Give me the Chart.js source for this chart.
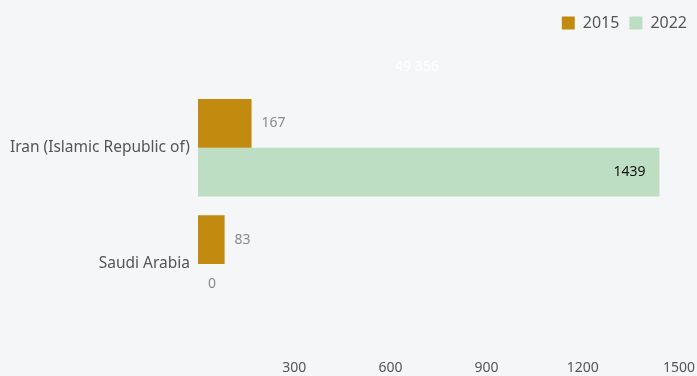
<!DOCTYPE html>
<html>
<head>
<meta charset="utf-8">
<script src="https://cdn.jsdelivr.net/npm/chart.js@4"></script>
<style>
  html, body { margin: 0; padding: 0; background: #f5f6f8; }
  #wrap { width: 697px; height: 376px; }
</style>
</head>
<body>
<div id="wrap"><canvas id="chart"></canvas></div>
<script>
const categories = ["Iran (Islamic Republic of)", "Saudi Arabia"];
const seriesNames = ["2015", "2022"];
const values2015 = [167, 83];
const values2022 = [1439, 0];
const tickValues = [300, 600, 900, 1200, 1500];
const totalLabel = "49 356";

const colors = ["#c38a10", "#bddec3"];
const FONT = "'Noto Sans', sans-serif";

// value labels next to / inside the bars, plus the faint white total
const barLabels = {
  id: "barLabels",
  afterDatasetsDraw(chart) {
    const ctx = chart.ctx;
    ctx.save();
    ctx.font = "14px " + FONT;
    ctx.textBaseline = "middle";
    chart.data.datasets.forEach((ds, di) => {
      const meta = chart.getDatasetMeta(di);
      meta.data.forEach((bar, i) => {
        const v = ds.data[i];
        const w = bar.x - bar.base;
        if (w > 60) {
          ctx.fillStyle = "#111";
          ctx.textAlign = "right";
          ctx.fillText(String(v), bar.x - 14, bar.y);
        } else {
          ctx.fillStyle = "#8a8a8a";
          ctx.textAlign = "left";
          ctx.fillText(String(v), bar.x + 10, v === 0 ? bar.y - 4 : bar.y);
        }
      });
    });
    const a = chart.chartArea;
    const t = chart.titleBlock;
    ctx.fillStyle = "#ffffff";
    ctx.textAlign = "center";
    ctx.fillText(totalLabel, a.left + (a.right - a.left) * 0.455, t.top + t.height / 2 + 2);
    ctx.restore();
  }
};

new Chart(document.getElementById("chart"), {
  type: "bar",
  data: {
    labels: categories,
    datasets: [
      { label: seriesNames[0], data: values2015, backgroundColor: colors[0] },
      { label: seriesNames[1], data: values2022, backgroundColor: colors[1] }
    ]
  },
  options: {
    indexAxis: "y",
    responsive: true,
    maintainAspectRatio: false,
    animation: false,
    categoryPercentage: 0.84,
    barPercentage: 1,
    layout: { padding: { top: 5, right: 0, left: 0, bottom: 0 } },
    plugins: {
      legend: {
        position: "top",
        align: "end",
        labels: {
          boxWidth: 13,
          boxHeight: 13,
          padding: 10,
          color: "#555",
          font: { family: FONT, size: 16 }
        }
      },
      // used as spacing between legend and bars; text drawn by barLabels
      title: {
        display: true,
        text: " ",
        weight: 500,
        padding: { top: 14, bottom: 18 },
        font: { family: FONT, size: 14 }
      },
      tooltip: { enabled: false }
    },
    scales: {
      x: {
        min: 0,
        max: 1500,
        afterBuildTicks(scale) {
          scale.ticks = [0].concat(tickValues).map(v => ({ value: v }));
        },
        afterFit(scale) {
          scale.height = 54;
          scale.paddingRight = 18;
        },
        ticks: {
          padding: 38,
          color: "#555",
          font: { family: FONT, size: 14 },
          callback: v => (v === 0 ? "" : v)
        },
        grid: { display: false, drawTicks: false },
        border: { display: false }
      },
      y: {
        afterFit(scale) { scale.width = 198; },
        ticks: {
          padding: 8,
          color: "#555",
          font: { family: FONT, size: 15.5 }
        },
        grid: { display: false, drawTicks: false },
        border: { display: false }
      }
    }
  },
  plugins: [barLabels]
});
</script>
</body>
</html>
